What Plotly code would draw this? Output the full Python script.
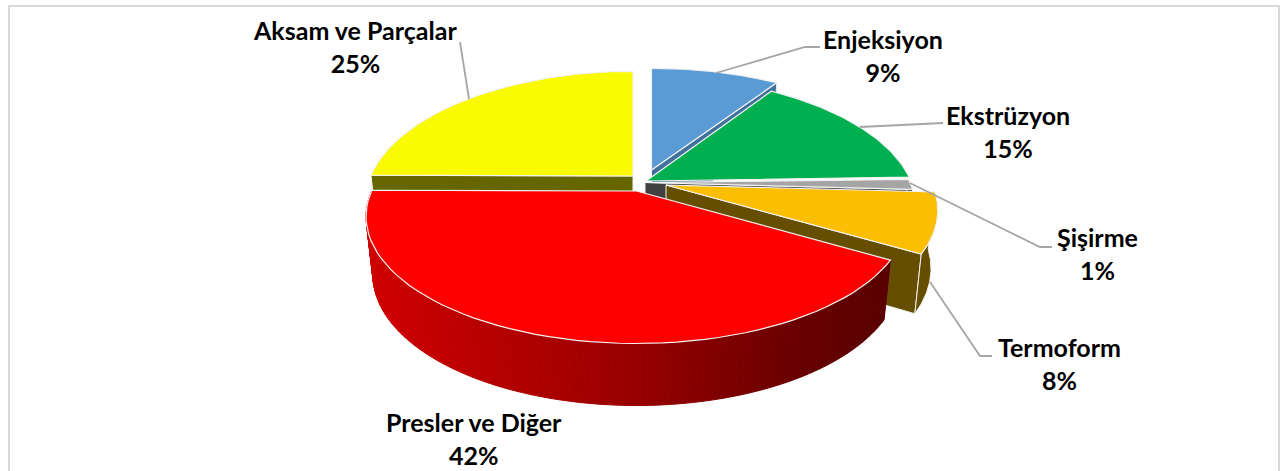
import math
import plotly.graph_objects as go

# ---- data ----
categories = ["Enjeksiyon", "Ekstrüzyon", "Şişirme", "Termoform", "Presler ve Diğer", "Aksam ve Parçalar"]
values = [9.3, 15.2, 1.4, 7.6, 41.6, 24.9]

# ---- styles ----
top_colors = ["#5b9bd5", "#00b050", "#a5a5a5", "#fcbe03", "#ff0000", "#fafa00"]
wall_colors = ["#41719c", "#006830", "#404040", "#664e00", "#660000", "#666600"]

# ---- projection settings (pixel frame 1281x471) ----
apex_x = [651.5, 646.0, 645.0, 666.0, 636.5, 633.0]
apex_y = [170.0, 181.0, 182.5, 185.0, 191.0, 176.0]
scale_x = [1.0, 1.0, 1.0, 1.005, 1.0, 0.99]
scale_y = [1.0, 1.03, 1.0, 1.0, 1.0, 1.03]
RX, RY, K = 265.0, 122.0, 0.2
X_SHRINK = 0.975


def project(i, theta, r=1.0):
    u, v = r * math.sin(theta), r * math.cos(theta)
    w = 1 + K * v
    return apex_x[i] + scale_x[i] * RX * u / w, apex_y[i] - scale_y[i] * RY * v / w


def drop(i, x, theta, r=1.0):
    depth = 57 - 5 * r * math.cos(theta)
    return apex_x[i] + (x - apex_x[i]) * X_SHRINK, depth


def bottom(i, theta, r=1.0):
    x, y = project(i, theta, r)
    nx, d = drop(i, x, theta, r)
    return nx, y + d


total = sum(values)
edges = [0.0]
for val in values:
    edges.append(edges[-1] + val / total * 2 * math.pi)


def arc(a, b, n=60):
    return [a + (b - a) * j / n for j in range(n + 1)]


fig = go.Figure()


def poly(pts, fill, line="white", width=1.0):
    xs = [p[0] for p in pts] + [pts[0][0]]
    ys = [p[1] for p in pts] + [pts[0][1]]
    fig.add_trace(go.Scatter(x=xs, y=ys, mode="lines", fill="toself", fillcolor=fill,
                             line=dict(color=line, width=width), hoverinfo="skip", showlegend=False))


def top_face(i):
    a, b = edges[i], edges[i + 1]
    poly([(apex_x[i], apex_y[i])] + [project(i, t) for t in arc(a, b)], top_colors[i], "#f2f2f2", 1.2)


def radial_wall(i, theta):
    poly([(apex_x[i], apex_y[i]), project(i, theta), bottom(i, theta), bottom(i, theta, 0.0)],
         wall_colors[i], "#f2f2f2", 1.0)


def outer_wall(i, a, b):
    ts = arc(a, b)
    poly([project(i, t) for t in ts] + [bottom(i, t) for t in reversed(ts)], wall_colors[i], "#f2f2f2", 1.0)


def red_color(x):
    stops = [(365, (208, 0, 0)), (520, (176, 0, 0)), (640, (150, 0, 0)), (800, (104, 0, 0)), (890, (90, 0, 0))]
    for (x0, c0), (x1, c1) in zip(stops, stops[1:]):
        if x <= x1:
            f = max(0.0, (x - x0) / (x1 - x0))
            return "rgb(%d,%d,%d)" % tuple(round(p + (q - p) * f) for p, q in zip(c0, c1))
    return "rgb(90,0,0)"


# back to front painter's order
I_BLUE, I_GREEN, I_GREY, I_ORANGE, I_RED, I_YELLOW = range(6)

radial_wall(I_YELLOW, edges[I_YELLOW])
top_face(I_YELLOW)

radial_wall(I_BLUE, edges[I_BLUE + 1])
top_face(I_BLUE)

radial_wall(I_GREY, edges[I_GREY + 1])
outer_wall(I_GREY, edges[I_GREY], edges[I_GREY + 1])
top_face(I_GREY)

top_face(I_GREEN)

radial_wall(I_ORANGE, edges[I_ORANGE + 1])
outer_wall(I_ORANGE, edges[I_ORANGE], edges[I_ORANGE + 1])
top_face(I_ORANGE)

# red slice: outer wall as narrow strips so the shade runs left to right
ts = arc(edges[I_RED], edges[I_RED + 1], 120)
for t0, t1 in zip(ts, ts[1:]):
    xm = (project(I_RED, t0)[0] + project(I_RED, t1)[0]) / 2
    c = red_color(xm)
    poly([project(I_RED, t0), project(I_RED, t1), bottom(I_RED, t1), bottom(I_RED, t0)], c, c, 1.0)
top_face(I_RED)

# ---- leader lines ----
leaders = [
    [(716, 73), (805, 47), (820, 47)],
    [(860, 127), (930, 124), (943, 123)],
    [(910, 183), (1040, 247), (1052, 247)],
    [(930, 282), (980, 356), (992, 356)],
    [(469, 99), (460, 42)],
]
for pts in leaders:
    fig.add_trace(go.Scatter(x=[p[0] for p in pts], y=[p[1] for p in pts], mode="lines",
                             line=dict(color="#a6a6a6", width=1.8), hoverinfo="skip", showlegend=False))

# ---- labels ----
label_xy = [(883, 55), (1008, 131), (1097, 253), (1059, 363), (474, 438), (355, 46)]
pct = [round(v / total * 100) for v in values]
annotations = [
    dict(x=x, y=y, xref="x", yref="y", showarrow=False, xanchor="center", yanchor="middle",
         text="<b>%s<br>%d%%</b>" % (c, p), align="center",
         font=dict(family="Lato", size=25, color="#000000"))
    for c, p, (x, y) in zip(categories, pct, label_xy)
]

fig.update_layout(
    width=1281, height=471,
    margin=dict(l=0, r=0, t=0, b=0),
    paper_bgcolor="white", plot_bgcolor="white",
    xaxis=dict(range=[0, 1281], visible=False, fixedrange=True),
    yaxis=dict(range=[471, 0], visible=False, fixedrange=True),
    showlegend=False,
    annotations=annotations,
    shapes=[dict(type="rect", xref="x", yref="y", x0=9, y0=6, x1=1279, y1=490,
                 line=dict(color="#d9d9d9", width=2), layer="below")],
)

fig.write_html("out.html", config={"displayModeBar": False},
               post_script="document.body.style.margin='0';document.documentElement.style.overflow='hidden';")
